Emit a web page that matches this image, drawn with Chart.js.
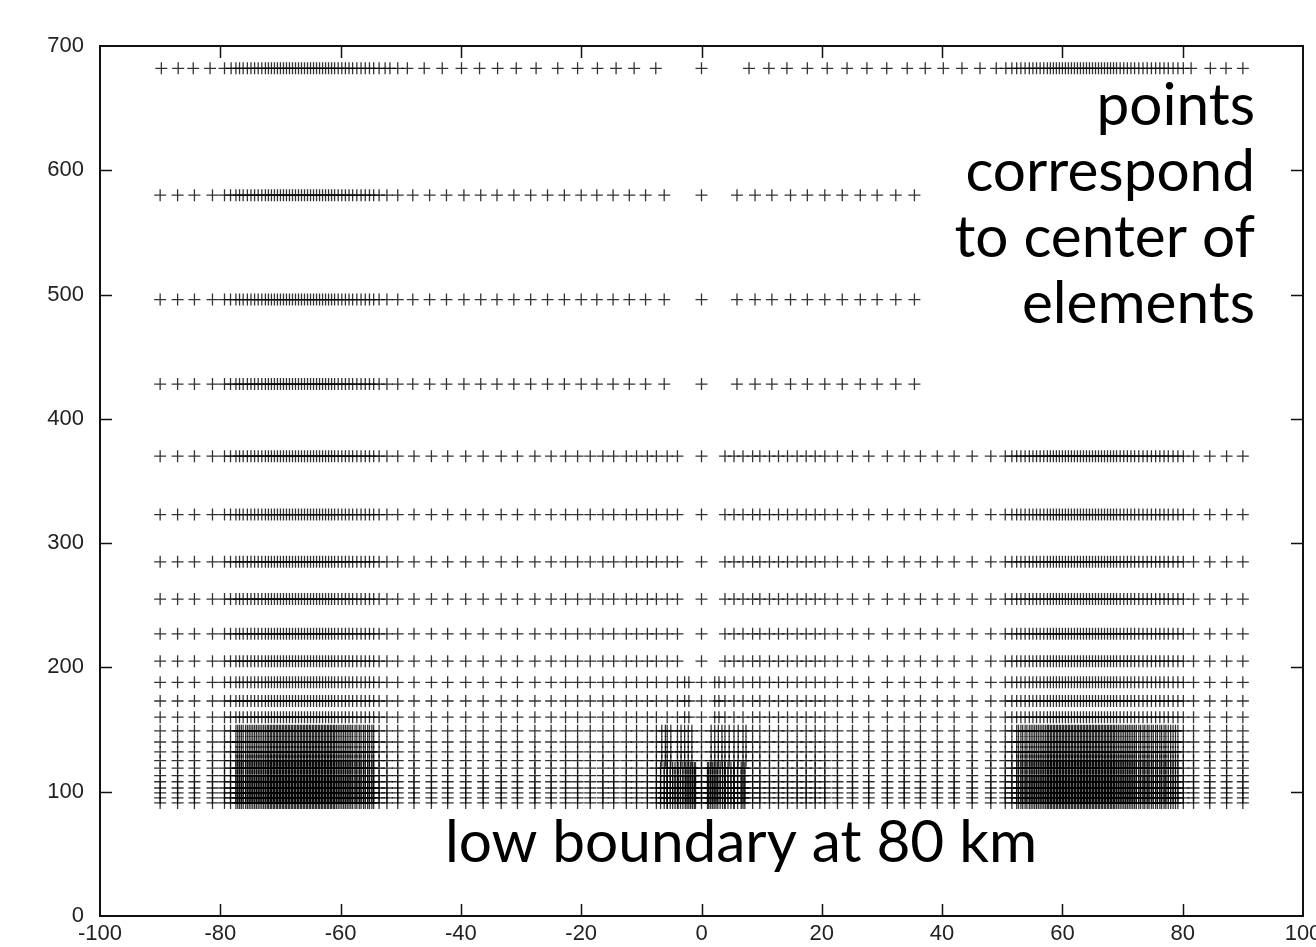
<!DOCTYPE html>
<html>
<head>
<meta charset="utf-8">
<script src="https://cdn.jsdelivr.net/npm/chart.js@4.4.1/dist/chart.umd.min.js"></script>
<style>
  html, body { margin: 0; padding: 0; background: #fff; overflow: hidden; }
  canvas { display: block; }
</style>
</head>
<body>
<canvas id="chart" width="1340" height="947"></canvas>
<script>
// Altitudes (km) of each row of element centers
const topRowAlts = [682];
const upperRowAlts = [580, 496, 428];
const midRowAlts = [370, 323, 285, 255, 227, 205];
const lowRowAltsA = [188, 173, 160];
const lowRowAltsB = [149, 140, 132, 125];
const lowRowAltsC = [119, 113, 108, 103, 99, 95, 91];

// Latitudes (deg) of the columns
const equator = [0];
const denseSouth = [-77.4, -76.8, -76.2, -75.5, -74.9, -74.3, -73.7, -73.1, -72.5, -72.0, -71.5, -71.0,
  -70.5, -70.0, -69.5, -69.0, -68.5, -68.0, -67.5, -67.0, -66.5, -66.0, -65.5, -65.0, -64.5, -64.0,
  -63.5, -63.0, -62.5, -62.0, -61.5, -61.0, -60.4, -59.8, -59.2, -58.6, -58.0, -57.3, -56.6, -55.9,
  -55.2, -54.5];
const denseNorth = [52.4, 53.1, 53.8, 54.5, 55.1, 55.7, 56.3, 56.9, 57.5, 58.0, 58.5, 59.0, 59.5,
  60.0, 60.5, 61.0, 61.5, 62.0, 62.5, 63.0, 63.5, 64.0, 64.5, 65.0, 65.5, 66.0, 66.5, 67.0, 67.5,
  68.0, 68.5, 69.0, 69.6, 70.2, 70.8, 71.4, 72.0, 72.7, 73.4, 74.1, 74.8, 75.5, 76.2, 76.9, 77.6,
  78.4, 79.2];
// the dense bands fill in further near the lower boundary
const lowDenseSouth = [-77.1, -76.5, -75.8, -75.2, -74.6, -74.0, -73.4, -72.8, -72.2, -71.7, -71.2,
  -70.7, -70.2, -69.7, -69.2, -68.7, -68.2, -67.7, -67.2, -66.7, -66.2, -65.7, -65.2, -64.7, -64.2,
  -63.7, -63.2, -62.7, -62.2, -61.7, -61.2, -60.7, -60.1, -59.5, -58.9, -58.3, -57.6, -56.9, -56.2,
  -55.5, -54.8];
const lowDenseNorth = [52.7, 53.4, 54.1, 54.8, 55.4, 56.0, 56.6, 57.2, 57.7, 58.2, 58.7, 59.2, 59.7,
  60.2, 60.7, 61.2, 61.7, 62.2, 62.7, 63.2, 63.7, 64.2, 64.7, 65.2, 65.7, 66.2, 66.7, 67.2, 67.7,
  68.2, 68.7, 69.3, 69.9, 70.5, 71.1, 71.7, 72.3, 73.0, 73.7, 74.4, 75.1, 75.8, 76.5, 77.2, 78.0,
  78.8];

const topSouthOuter = [-89.8, -87.0, -84.5, -81.7, -79.3, -78.2];
const topSouthInner = [-53.6, -52.6, -51.8, -50.5, -48.9, -46.1, -43.1, -39.9, -36.9, -33.9, -30.8,
  -27.5, -23.9, -20.6, -17.3, -14.2, -11.2, -7.6];
const topNorthInner = [7.9, 11.2, 14.2, 17.6, 20.9, 24.2, 27.5, 30.8, 34.2, 37.2, 40.2, 43.3, 46.3,
  49.0, 50.6, 51.6];
const topNorthOuter = [80.1, 81.4, 84.6, 87.2, 90.0];

const upperSouthInner = [-53.6, -52.3, -50.5, -48.0, -45.2, -42.4, -39.5, -36.7, -34.0, -31.2, -28.4,
  -25.6, -22.8, -20.0, -17.4, -14.7, -12.0, -9.3, -6.2];
const upperNorth = [5.9, 8.9, 11.7, 14.8, 17.6, 20.5, 23.4, 26.4, 29.2, 32.3, 35.4];

const midSouthOuter = [-90.0, -87.1, -84.3, -81.3, -79.3, -78.3];
const midSouthInner = [-53.6, -52.3, -50.5, -47.8, -44.9, -42.2, -39.2, -36.3, -33.3, -30.6, -27.7,
  -25.0, -22.6, -20.6, -18.5, -16.4, -14.6, -12.5, -10.8, -9.0, -7.5, -5.7, -4.0];
const midNorthInner = [3.9, 5.4, 6.9, 8.5, 9.7, 11.3, 12.8, 14.3, 15.9, 17.4, 18.9, 20.5, 22.6, 25.1,
  27.8, 30.9, 33.7, 36.4, 39.2, 42.0, 45.0, 48.1, 50.5, 51.6];
const midNorthOuter = [80.1, 81.8, 84.5, 87.3, 90.0];

// extra columns crowding the equator near the lower boundary
const lowExtraA = [-2.8, -2.1, 2.2, 2.9];
const lowExtraB = [-6.6, -6.0, -5.1, -3.4, -2.8, -2.2, -1.6, 1.6, 2.2, 2.8, 3.4, 4.6, 6.1, 7.4];
const lowExtraC = [-6.8, -6.2, -5.7, -5.2, -4.8, -4.4, -3.9, -3.5, -3.1, -2.7, -2.4, -2.1, -1.8, -1.5,
  -1.2, -1.0, 1.0, 1.2, 1.5, 1.8, 2.1, 2.4, 2.7, 3.1, 3.5, 3.9, 4.4, 4.9, 5.4, 6.0, 6.6, 7.2];

// annotation text
const sideNote = ['points', 'correspond', 'to center of', 'elements'];
const bottomNote = 'low boundary at 80 km';

const topLats = [...topSouthOuter, ...denseSouth, ...topSouthInner, ...equator,
  ...topNorthInner, ...denseNorth, ...topNorthOuter];
const upperLats = [...midSouthOuter, ...denseSouth, ...upperSouthInner, ...equator, ...upperNorth];
const midLats = [...midSouthOuter, ...denseSouth, ...midSouthInner, ...equator,
  ...midNorthInner, ...denseNorth, ...midNorthOuter];
const lowLats = [...midLats, ...lowDenseSouth, ...lowDenseNorth];

const rows = (alts, lats) => alts.flatMap(a => lats.map(l => ({ x: l, y: a })));

const points = [
  ...rows(topRowAlts, topLats),
  ...rows(upperRowAlts, upperLats),
  ...rows(midRowAlts, midLats),
  ...rows(lowRowAltsA, [...midLats, ...lowExtraA]),
  ...rows(lowRowAltsB, [...lowLats, ...lowExtraB]),
  ...rows(lowRowAltsC, [...lowLats, ...lowExtraC]),
];

// gnuplot style box with inward ticks, plus the slide text on top
const frame = {
  id: 'frame',
  afterDraw(chart) {
    const { ctx, chartArea: a, scales: { x, y } } = chart;
    ctx.save();
    ctx.strokeStyle = '#111';
    ctx.lineWidth = 2;
    ctx.strokeRect(a.left, a.top, a.right - a.left, a.bottom - a.top);
    ctx.lineWidth = 1.5;
    ctx.beginPath();
    x.ticks.forEach(t => {
      if (t.value <= x.min || t.value >= x.max) return;
      const px = Math.round(x.getPixelForValue(t.value)) + 0.5;
      ctx.moveTo(px, a.bottom); ctx.lineTo(px, a.bottom - 12);
      ctx.moveTo(px, a.top); ctx.lineTo(px, a.top + 12);
    });
    y.ticks.forEach(t => {
      if (t.value <= y.min || t.value >= y.max) return;
      const py = Math.round(y.getPixelForValue(t.value)) + 0.5;
      ctx.moveTo(a.left, py); ctx.lineTo(a.left + 12, py);
      ctx.moveTo(a.right, py); ctx.lineTo(a.right - 12, py);
    });
    ctx.stroke();

    ctx.font = '48px Lato';
    const size = 48 * 592 / ctx.measureText(bottomNote).width;
    ctx.font = size.toFixed(1) + 'px Lato';
    ctx.fillStyle = '#000';
    ctx.textBaseline = 'alphabetic';
    ctx.textAlign = 'right';
    sideNote.forEach((s, i) => ctx.fillText(s, 1255, 125 + i * 66));
    ctx.textAlign = 'center';
    ctx.fillText(bottomNote, 741, 862);
    ctx.restore();
  }
};

new Chart(document.getElementById('chart'), {
  type: 'scatter',
  data: {
    datasets: [{
      data: points,
      pointStyle: 'cross',
      pointRadius: 6,
      pointHoverRadius: 6,
      borderWidth: 1.3,
      borderColor: 'rgba(0,0,0,0.8)',
    }]
  },
  options: {
    responsive: false,
    animation: false,
    events: [],
    layout: { padding: { top: 46, right: 37, left: 0, bottom: 0 } },
    plugins: { legend: { display: false }, tooltip: { enabled: false } },
    scales: {
      x: {
        type: 'linear', min: -100, max: 100,
        grid: { display: false, drawTicks: false },
        border: { display: false },
        ticks: { stepSize: 20, padding: 5, color: '#222', font: { family: 'Liberation Sans', size: 22 } },
        afterFit(s) { s.height = 31; }
      },
      y: {
        type: 'linear', min: 0, max: 700,
        grid: { display: false, drawTicks: false },
        border: { display: false },
        ticks: { stepSize: 100, padding: 16, color: '#222', font: { family: 'Liberation Sans', size: 22 } },
        afterFit(s) { s.width = 100; }
      }
    }
  },
  plugins: [frame]
});
</script>
</body>
</html>
